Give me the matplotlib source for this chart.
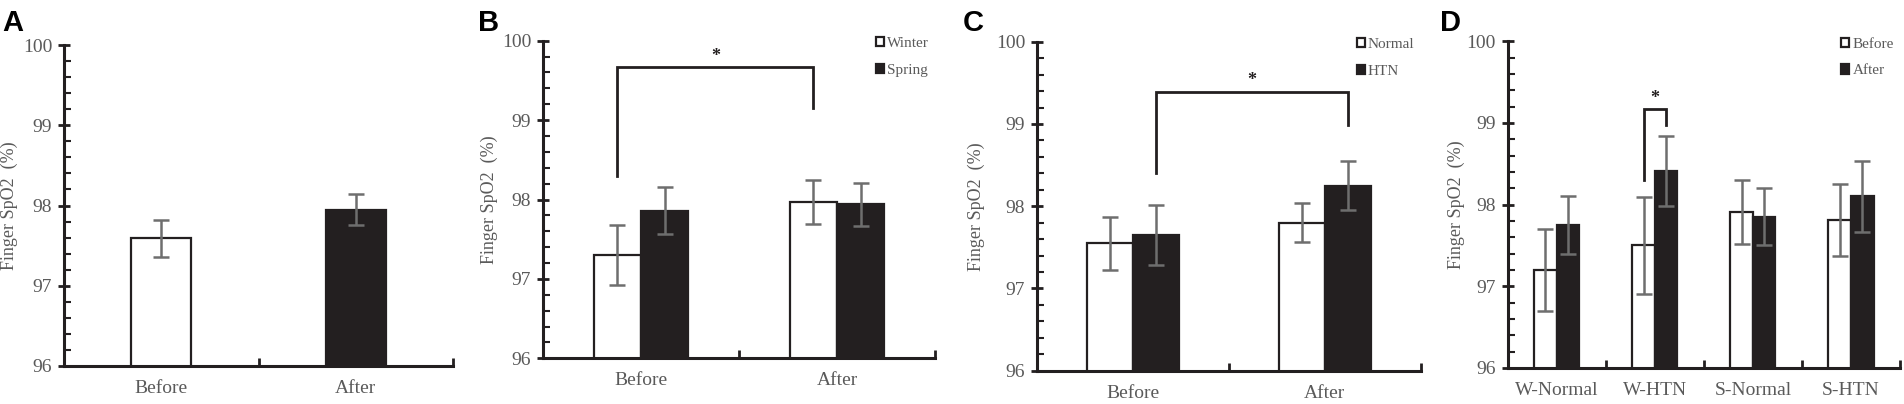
import numpy as np
import matplotlib
matplotlib.use('Agg')
import matplotlib.pyplot as plt

plt.rcParams['font.family'] = ['Liberation Serif', 'DejaVu Serif']

# panel A
a_cats = ['Before', 'After']
a_vals = [97.59, 97.95]
a_errs = [0.235, 0.195]

# panel B
b_cats = ['Before', 'After']
b_winter = [97.30, 97.97]
b_winter_err = [0.38, 0.28]
b_spring = [97.86, 97.94]
b_spring_err = [0.30, 0.27]

# panel C
c_cats = ['Before', 'After']
c_normal = [97.55, 97.80]
c_normal_err = [0.32, 0.24]
c_htn = [97.65, 98.25]
c_htn_err = [0.36, 0.30]

# panel D
d_cats = ['W-Normal', 'W-HTN', 'S-Normal', 'S-HTN']
d_before = [97.20, 97.50, 97.91, 97.81]
d_before_err = [0.50, 0.59, 0.39, 0.44]
d_after = [97.75, 98.41, 97.85, 98.10]
d_after_err = [0.355, 0.43, 0.35, 0.44]

DARK = '#231f20'
GREY = '#6e6e6e'
TXT = '#5a5a5a'
W, H = 1904, 404

fig = plt.figure(figsize=(19.04, 4.04), dpi=100)


def make_ax(left, right, top, bottom):
    return fig.add_axes([left / W, (H - bottom) / H, (right - left) / W, (bottom - top) / H])


def style(ax, cats, label_off):
    n = len(cats)
    ax.set_xlim(-0.5, n - 0.5)
    ax.set_ylim(96, 100)
    ax.spines['top'].set_visible(False)
    ax.spines['right'].set_visible(False)
    for s in ('left', 'bottom'):
        ax.spines[s].set_linewidth(2.2)
        ax.spines[s].set_color(DARK)
    ax.set_yticks([96, 97, 98, 99, 100])
    ax.set_yticks(np.arange(96, 100.01, 0.2), minor=True)
    ax.tick_params(axis='y', which='major', direction='inout', length=9, width=2, color=DARK,
                   labelsize=14, labelcolor=TXT, pad=4)
    ax.tick_params(axis='y', which='minor', direction='in', length=5, width=1.5, color=DARK)
    ax.set_xticks(np.arange(n))
    ax.set_xticklabels(cats)
    ax.set_xticks(np.arange(n) + 0.5, minor=True)
    ax.tick_params(axis='x', which='major', length=0, labelsize=14, labelcolor=TXT, pad=10)
    ax.tick_params(axis='x', which='minor', direction='in', length=6, width=2, color=DARK)
    ax.set_ylabel('Finger SpO2  (%)', fontsize=13, color=TXT)
    bb = ax.get_position()
    # label_off = distance in px from the spine to the right edge of the label
    ax.yaxis.set_label_coords(-label_off / (bb.width * W), 0.5)


def bracket(ax, x1, x2, y1, y2, top, star_y):
    ax.plot([x1, x1, x2, x2], [y1, top, top, y2], color=DARK, lw=2, solid_joinstyle='miter')
    ax.text((x1 + x2) / 2, star_y, '*', ha='center', va='center', fontsize=13,
            fontweight='bold', color=DARK)


def legend(ax, handles, labels):
    leg = ax.legend(handles, labels, loc='upper right', bbox_to_anchor=(1.0, 1.03), frameon=False,
                    fontsize=11, handlelength=0.55, handleheight=0.55, handletextpad=0.2,
                    labelspacing=0.9, borderaxespad=0.0)
    for t in leg.get_texts():
        t.set_color(TXT)


ebar = dict(ecolor=GREY, elinewidth=1.8, capsize=6, capthick=1.8)

# A
ax = make_ax(64, 453, 45, 366)
x = np.arange(len(a_cats))
ax.bar(x, a_vals, width=0.31, bottom=0, color=['white', DARK], edgecolor=DARK, linewidth=1.6,
       yerr=a_errs, error_kw=ebar)
style(ax, a_cats, 46)

# B
ax = make_ax(543, 935, 40.7, 358.3)
x = np.arange(len(b_cats))
bw = 0.24
h1 = ax.bar(x - bw / 2, b_winter, width=bw, color='white', edgecolor=DARK, linewidth=1.6,
            yerr=b_winter_err, error_kw=ebar)
h2 = ax.bar(x + bw / 2, b_spring, width=bw, color=DARK, edgecolor=DARK, linewidth=1.6,
            yerr=b_spring_err, error_kw=ebar)
style(ax, b_cats, 45)
bracket(ax, 0 - bw / 2, 1 - bw / 2, 98.29, 99.15, 99.67, 99.80)
legend(ax, [h1, h2], ['Winter', 'Spring'])

# C
ax = make_ax(1037, 1420.7, 41.7, 370.7)
x = np.arange(len(c_cats))
h1 = ax.bar(x - bw / 2, c_normal, width=bw, color='white', edgecolor=DARK, linewidth=1.6,
            yerr=c_normal_err, error_kw=ebar)
h2 = ax.bar(x + bw / 2, c_htn, width=bw, color=DARK, edgecolor=DARK, linewidth=1.6,
            yerr=c_htn_err, error_kw=ebar)
style(ax, c_cats, 52)
bracket(ax, 0 + bw / 2, 1 + bw / 2, 98.40, 98.99, 99.39, 99.53)
legend(ax, [h1, h2], ['Normal', 'HTN'])

# D
ax = make_ax(1507.7, 1900, 41.3, 368)
x = np.arange(len(d_cats))
dw = 0.23
h1 = ax.bar(x - dw / 2, d_before, width=dw, color='white', edgecolor=DARK, linewidth=1.6,
            yerr=d_before_err, error_kw=ebar)
h2 = ax.bar(x + dw / 2, d_after, width=dw, color=DARK, edgecolor=DARK, linewidth=1.6,
            yerr=d_after_err, error_kw=ebar)
style(ax, d_cats, 43)
bracket(ax, 1 - dw / 2, 1 + dw / 2, 98.30, 98.98, 99.17, 99.30)
legend(ax, [h1, h2], ['Before', 'After'])

# panel letters
for lx, letter in [(2, 'A'), (478, 'B'), (963, 'C'), (1440, 'D')]:
    fig.text(lx / W, 1 - 31 / H, letter, fontsize=21, fontweight='bold',
             family='Liberation Sans', color='black', va='baseline', ha='left')

fig.savefig('out.png', dpi=100)
